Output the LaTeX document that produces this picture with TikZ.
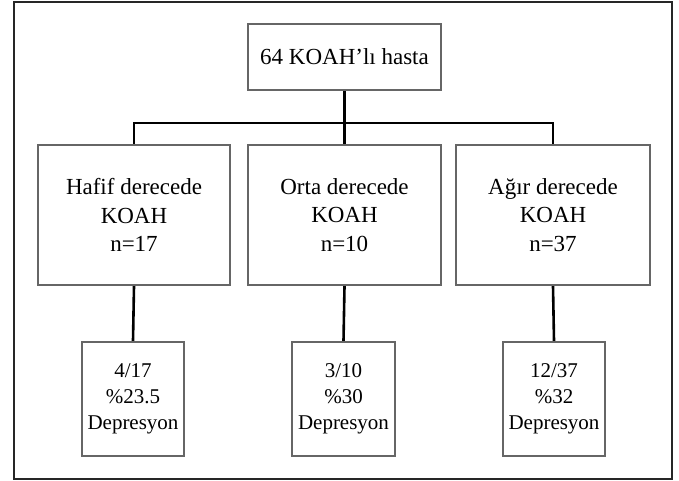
\documentclass[tikz,border=0pt]{standalone}
\usepackage{fontspec}
\setmainfont{Liberation Serif}
\begin{document}
\begin{tikzpicture}[x=1pt,y=-1pt,
  box/.style={draw=black!60, line width=2.4pt, fill=white, align=center, inner sep=0pt},
  bigbox/.style={box, font=\fontsize{23}{28.5}\selectfont},
  smallbox/.style={box, font=\fontsize{21}{26}\selectfont},
  conn/.style={draw=black, line width=2.6pt}]
\useasboundingbox (0,0) rectangle (679,480);
\draw[line width=1.6pt, black!85] (14,2) rectangle (672,479);
\node[bigbox, minimum width=193pt, minimum height=66pt] (top) at (344.5,57) {64 KOAH’lı hasta};
\node[bigbox, minimum width=192pt, minimum height=140pt] (m1) at (134,215) {Hafif derecede\\KOAH\\n=17};
\node[bigbox, minimum width=193pt, minimum height=140pt] (m2) at (344.5,215) {Orta derecede\\KOAH\\n=10};
\node[bigbox, minimum width=194pt, minimum height=140pt] (m3) at (553,215) {Ağır derecede\\KOAH\\n=37};
\node[smallbox, minimum width=102pt, minimum height=114pt] (b1) at (133,399) {4/17\\\%23.5\\Depresyon};
\node[smallbox, minimum width=103pt, minimum height=114pt] (b2) at (343.5,399) {3/10\\\%30\\Depresyon};
\node[smallbox, minimum width=102pt, minimum height=114pt] (b3) at (554,399) {12/37\\\%32\\Depresyon};
\coordinate (j) at (344.5,123);
\draw[conn] (top.south) -- (j);
\draw[conn] (m1.north) -- (m1.north |- j) -- (m3.north |- j) -- (m3.north);
\draw[conn] (j) -- (m2.north);
\draw[conn] (m1.south) -- (b1.north);
\draw[conn] (m2.south) -- (b2.north);
\draw[conn] (m3.south) -- (b3.north);
\end{tikzpicture}
\end{document}
